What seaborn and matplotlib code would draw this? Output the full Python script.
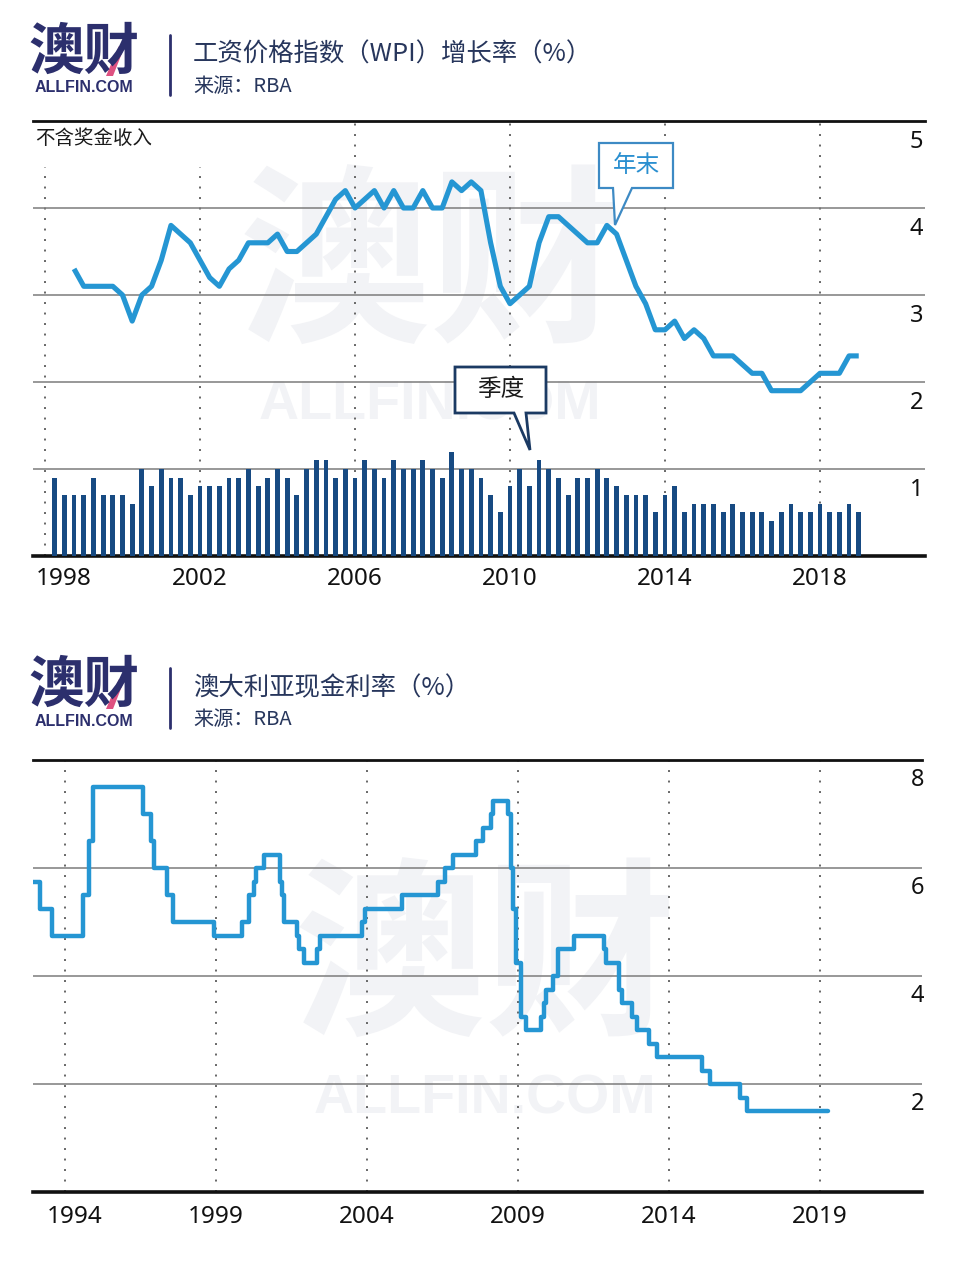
import matplotlib
matplotlib.use("Agg")
import matplotlib.pyplot as plt
import matplotlib.transforms as mtrans
from matplotlib.patches import Polygon, Rectangle
from matplotlib.lines import Line2D
import numpy as np
import seaborn as sns

# ---------------- data ----------------
# WPI quarterly growth (%), quarters from 1998.25 step 0.25
wpi_start = 1998.25
wpi_qtr = [0.9, 0.7, 0.7, 0.7, 0.9, 0.7, 0.7, 0.7, 0.6, 1.0,
           0.8, 1.0, 0.9, 0.9, 0.7, 0.8, 0.8, 0.8, 0.9, 0.9,
           1.0, 0.8, 0.9, 1.0, 0.9, 0.7, 1.0, 1.1, 1.1, 0.9,
           1.0, 0.9, 1.1, 1.0, 0.9, 1.1, 1.0, 1.0, 1.1, 1.0,
           0.9, 1.2, 1.0, 1.0, 0.9, 0.7, 0.5, 0.8, 1.0, 0.8,
           1.1, 1.0, 0.9, 0.7, 0.9, 0.9, 1.0, 0.9, 0.8, 0.7,
           0.7, 0.7, 0.5, 0.7, 0.8, 0.5, 0.6, 0.6, 0.6, 0.5,
           0.6, 0.5, 0.5, 0.5, 0.4, 0.5, 0.6, 0.5, 0.5, 0.6,
           0.5, 0.5, 0.6, 0.5]
# WPI year-ended growth (%), starting at 1998.75 step 0.25
wpi_ann_start = 1998.75
wpi_ann = [3.3, 3.1, 3.1, 3.1, 3.1, 3.0, 2.7, 3.0, 3.1, 3.4,
           3.8, 3.7, 3.6, 3.4, 3.2, 3.1, 3.3, 3.4, 3.6, 3.6,
           3.6, 3.7, 3.5, 3.5, 3.6, 3.7, 3.9, 4.1, 4.2, 4.0,
           4.1, 4.2, 4.0, 4.2, 4.0, 4.0, 4.2, 4.0, 4.0, 4.3,
           4.2, 4.3, 4.2, 3.6, 3.1, 2.9, 3.0, 3.1, 3.6, 3.9,
           3.9, 3.8, 3.7, 3.6, 3.6, 3.8, 3.7, 3.4, 3.1, 2.9,
           2.6, 2.6, 2.7, 2.5, 2.6, 2.5, 2.3, 2.3, 2.3, 2.2,
           2.1, 2.1, 1.9, 1.9, 1.9, 1.9, 2.0, 2.1, 2.1, 2.1,
           2.3, 2.3]
wpi_years = [1998, 2002, 2006, 2010, 2014, 2018]
wpi_yticks = [1, 2, 3, 4, 5]

# Cash rate: change dates (decimal year) and new levels (%)
cash_dates = [1992.95, 1993.17, 1993.56, 1994.61, 1994.81, 1994.94, 1996.58, 1996.86,
              1996.94, 1997.37, 1997.58, 1998.93, 1999.85, 2000.09, 2000.26, 2000.34,
              2000.59, 2001.11, 2001.18, 2001.26, 2001.68, 2001.76, 2001.93, 2002.35,
              2002.43, 2003.85, 2003.93, 2005.17, 2006.34, 2006.59, 2006.86, 2007.60,
              2007.85, 2008.10, 2008.18, 2008.67, 2008.77, 2008.85, 2008.93, 2009.10,
              2009.27, 2009.77, 2009.85, 2009.93, 2010.17, 2010.34, 2010.84, 2011.84,
              2011.93, 2012.34, 2012.43, 2012.76, 2012.93, 2013.35, 2013.60, 2015.10,
              2015.35, 2016.35, 2016.60, 2019.28]
cash_rates = [5.75, 5.25, 4.75, 5.50, 6.50, 7.50, 7.00, 6.50,
              6.00, 5.50, 5.00, 4.75, 5.00, 5.50, 5.75, 6.00,
              6.25, 5.75, 5.50, 5.00, 4.75, 4.50, 4.25, 4.50,
              4.75, 5.00, 5.25, 5.50, 5.75, 6.00, 6.25, 6.50,
              6.75, 7.00, 7.25, 7.00, 6.00, 5.25, 4.25, 3.25,
              3.00, 3.25, 3.50, 3.75, 4.00, 4.50, 4.75, 4.50,
              4.25, 3.75, 3.50, 3.25, 3.00, 2.75, 2.50, 2.25,
              2.00, 1.75, 1.50, 1.50]
cash_years = [1994, 1999, 2004, 2009, 2014, 2019]
cash_yticks = [2, 4, 6, 8]

title1 = "工资价格指数（WPI）增长率（%）"
title2 = "澳大利亚现金利率（%）"
source = "来源：RBA"
note1 = "不含奖金收入"
ann_year = "年末"
ann_qtr = "季度"

# ---------------- style ----------------
sns.set_theme(style="white")
plt.rcParams["font.family"] = ["Noto Sans", "Noto Sans CJK SC", "DejaVu Sans"]

NAVY = "#2c2f6d"
TITLE = "#27365c"
LINE = "#2596d3"
BAR = "#174a82"
GRID = "#7c7c7c"
WM = "#f2f3f6"
CJK = ["Noto Sans CJK SC", "DejaVu Sans"]

W, H = 960, 1276
fig = plt.figure(figsize=(9.6, 12.76), dpi=100)
fig.patch.set_facecolor("white")


def fx(x):
    return x / W


def fy(y):
    return 1 - y / H


def header(dy, title):
    fig.text(fx(28), fy(53 + dy), "澳财", fontsize=40, fontweight="heavy", color=NAVY,
             family=CJK, va="center", ha="left")
    fig.text(fx(84), fy(88 + dy), "ALLFIN.COM", fontsize=11.5, fontweight="bold",
             family="Liberation Sans", color=NAVY, va="center", ha="center")
    acc = Polygon([(fx(106), fy(76 + dy)), (fx(113), fy(76 + dy)), (fx(124), fy(48 + dy)),
                   (fx(119), fy(46 + dy))], closed=True, fc="#d9336b", ec="none",
                  transform=fig.transFigure, alpha=0.85)
    fig.add_artist(acc)
    fig.add_artist(Line2D([fx(170), fx(170)], [fy(35 + dy), fy(95 + dy)], color=NAVY,
                          lw=2, transform=fig.transFigure))
    fig.text(fx(193), fy(55 + dy), title, fontsize=18.3, color=TITLE, family=CJK,
             va="center", ha="left")
    fig.text(fx(193), fy(87 + dy), source, fontsize=14.5, color=TITLE, family=CJK,
             va="center", ha="left")


def watermark(cx, cy1, cy2):
    fig.text(fx(cx), fy(cy1), "澳财", fontsize=138, fontweight="heavy", color=WM,
             family=CJK, va="center", ha="center", zorder=-5)
    fig.text(fx(cx), fy(cy2), "ALLFIN.COM", fontsize=40, fontweight="bold", color=WM,
             family="Liberation Sans", va="center", ha="center", zorder=-5)


def callout(box, tail, tip, ec, lw, text, tcolor):
    x0, y0, x1, y1 = box
    pts = [(x0, y0), (x1, y0), (x1, y1), (tail[1], y1), tip, (tail[0], y1), (x0, y1)]
    poly = Polygon([(fx(a), fy(b)) for a, b in pts], closed=True, fc="white", ec=ec,
                   lw=lw, transform=fig.transFigure, zorder=10, joinstyle="miter")
    fig.add_artist(poly)
    fig.text(fx((x0 + x1) / 2), fy((y0 + y1) / 2), text, fontsize=17, color=tcolor,
             family=CJK, va="center", ha="center", zorder=11)


def style_axes(ax, grid_vals):
    ax.set_facecolor("none")
    for v in grid_vals:
        ax.axhline(v, color=GRID, lw=1.1, zorder=2)
    ax.spines["left"].set_visible(False)
    ax.spines["right"].set_visible(False)
    ax.spines["top"].set_color("#111111")
    ax.spines["top"].set_linewidth(2)
    ax.spines["bottom"].set_color("#111111")
    ax.spines["bottom"].set_linewidth(2.6)
    ax.set_xticks([])
    ax.set_yticks([])
    ax.set_xlabel("")
    ax.set_ylabel("")


# ---------------- headers & watermarks ----------------
header(0, title1)
header(633, title2)
watermark(430, 272, 405)
watermark(485, 965, 1100)

# ---------------- top chart ----------------
ax1 = fig.add_axes([fx(33), fy(556), fx(925) - fx(33), fy(121) - fy(556)])
bar_x = [wpi_start + 0.25 * i for i in range(len(wpi_qtr))]
ann_x = [wpi_ann_start + 0.25 * i for i in range(len(wpi_ann))]
sns.barplot(x=bar_x, y=wpi_qtr, native_scale=True, width=0.5, color=BAR,
            saturation=1, errorbar=None, ax=ax1, zorder=3, linewidth=0, edgecolor="none")
sns.lineplot(x=ann_x, y=wpi_ann, ax=ax1, color=LINE, linewidth=3.7, zorder=5,
             solid_joinstyle="round", solid_capstyle="butt")
style_axes(ax1, [1, 2, 3, 4])
ax1.set_xlim(1997.69, 2020.71)
ax1.set_ylim(0, 5)
for yr in wpi_years:
    ax1.axvline(yr, color="#666666", lw=1.4, ls=(0, (1, 4.4)), zorder=1)
ax1.add_patch(Rectangle((fx(33), fy(167)), fx(215) - fx(33), fy(121) - fy(167),
                        transform=fig.transFigure, fc="white", ec="none", zorder=1.5))
fig.text(fx(35), fy(138), note1, fontsize=14, color="#1a1a1a", family=CJK,
         va="center", ha="left")
lab_off = mtrans.offset_copy(ax1.get_yaxis_transform(), fig=fig, x=-2, y=-21, units="dots")
for v in wpi_yticks:
    ax1.text(1.0, v, str(v), transform=lab_off, ha="right", va="center", fontsize=17,
             color="#111111")
for i, yr in enumerate(wpi_years):
    off = 19 if i == 0 else 0
    tr = mtrans.offset_copy(ax1.get_xaxis_transform(), fig=fig, x=off, y=-23, units="dots")
    ax1.text(yr, 0, str(yr), transform=tr, ha="center", va="center", fontsize=17.5,
             color="#111111")

callout((599, 143, 673, 188), (613, 632), (615, 225), "#3d8ac4", 1.6, ann_year, "#2a8fd0")
callout((455, 367, 546, 413), (514, 526), (530, 450), "#1b3a63", 2.0, ann_qtr, "#1a1a1a")

# ---------------- bottom chart ----------------
ax2 = fig.add_axes([fx(33), fy(1192), fx(922) - fx(33), fy(760) - fy(1192)])
sns.lineplot(x=cash_dates, y=cash_rates, ax=ax2, color=LINE, linewidth=3.2,
             drawstyle="steps-post", zorder=5)
style_axes(ax2, [2, 4, 6])
ax2.set_xlim(1992.94, 2022.38)
ax2.set_ylim(0, 8)
for yr in cash_years:
    ax2.axvline(yr, color="#666666", lw=1.4, ls=(0, (1, 4.4)), zorder=1)
lab_off2 = mtrans.offset_copy(ax2.get_yaxis_transform(), fig=fig, x=2, y=-20, units="dots")
for v in cash_yticks:
    ax2.text(1.0, v, str(v), transform=lab_off2, ha="right", va="center", fontsize=17,
             color="#111111")
for i, yr in enumerate(cash_years):
    off = 10 if i == 0 else 0
    tr = mtrans.offset_copy(ax2.get_xaxis_transform(), fig=fig, x=off, y=-25, units="dots")
    ax2.text(yr, 0, str(yr), transform=tr, ha="center", va="center", fontsize=17.5,
             color="#111111")

fig.savefig("out.png", dpi=100, facecolor="white")
